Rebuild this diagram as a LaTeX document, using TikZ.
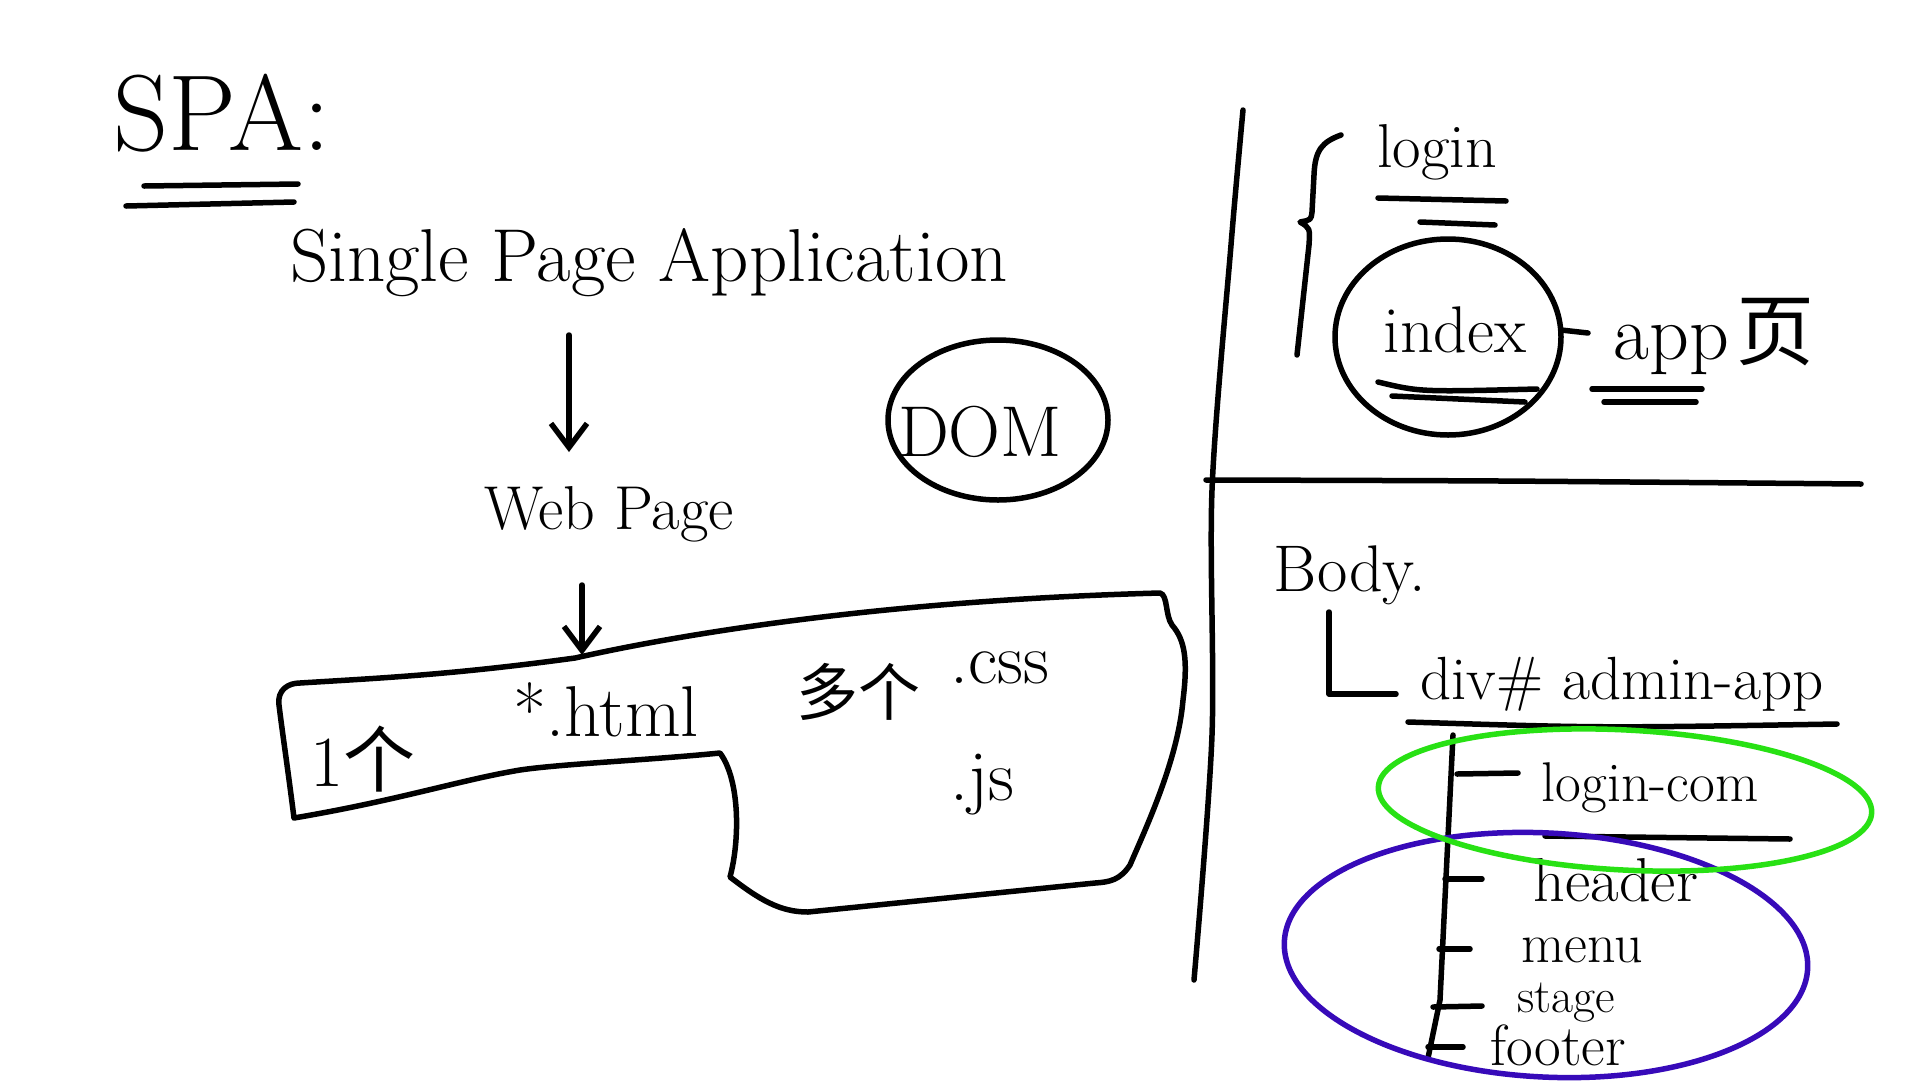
\documentclass[tikz,border=0pt]{standalone}
\usepackage{fontspec}
\newfontfamily\cjk{Noto Sans CJK SC}
\usetikzlibrary{arrows.meta}
\definecolor{hlgreen}{RGB}{40,225,20}
\definecolor{hlblue}{RGB}{55,10,185}
\newcommand{\fsz}[1]{\fontsize{#1}{#1}\selectfont}
\tikzset{
  ink/.style={line width=5.5pt, line cap=round, line join=round},
  lbl/.style={inner sep=0pt, outer sep=0pt},
  arr/.style={ink, -{Straight Barb[length=24pt,width=36pt]}},
  greenloop/.style={ink, draw=hlgreen},
  blueloop/.style={ink, draw=hlblue},
}
\begin{document}
\begin{tikzpicture}[x=1pt,y=-1pt]
\useasboundingbox[fill=white] (0,0) rectangle (1920,1080);

% ---------- left part ----------
\node[lbl] (spa) at (222,113) {\fsz{108}SPA:};
\draw[ink] (144,186) -- (298,184);
\draw[ink] (126,206) -- (294,202);

\node[lbl] (title) at (649,263) {\fsz{75}Single Page Application};
\coordinate (a1s) at (569,335);
\coordinate (a1e) at (569,452);
\draw[arr] (a1s) -- (a1e);

\node[lbl] (web) at (609,514) {\fsz{62}Web Page};
\coordinate (a2s) at (582,585);
\coordinate (a2e) at (582,655);
\draw[arr] (a2s) -- (a2e);

% page-shaped outline
\draw[ink] (294,818) .. controls (288,770) and (282,730) .. (279,705)
  .. controls (277,690) and (288,683) .. (300,683)
  .. controls (380,678) and (450,675) .. (575,658)
  .. controls (700,630) and (900,600) .. (1160,593)
  .. controls (1168,595) and (1165,615) .. (1172,625)
  .. controls (1185,640) and (1188,660) .. (1183,700)
  .. controls (1178,760) and (1145,830) .. (1130,865)
  .. controls (1120,880) and (1110,882) .. (1095,883)
  -- (808,912)
  .. controls (780,912) and (760,900) .. (730,877)
  .. controls (740,840) and (740,780) .. (720,753)
  .. controls (650,760) and (560,764) .. (520,770)
  .. controls (460,780) and (400,800) .. (294,818);

\node[lbl] (one) at (363,759) {\fsz{72}1{\cjk 个}};
\node[lbl] (html) at (606,710) {\fsz{72}*.html};
\node[lbl] (many) at (858,692) {\fsz{62}\cjk 多个};
\node[lbl] (css) at (1000,668) {\fsz{72}.css};
\node[lbl] (js) at (982,785) {\fsz{72}.js};

\node[lbl] (dom) at (980,432) {\fsz{72}DOM};
\draw[ink] (998,420) ellipse [x radius=110, y radius=80];

% ---------- dividers ----------
\draw[ink] plot[smooth] coordinates {(1243,110) (1231,245) (1212,490) (1212,735) (1194,980)};
\draw[ink] plot[smooth] coordinates {(1206,480) (1500,481) (1861,484)};

% ---------- top right ----------
\draw[ink] (1341,135) .. controls (1322,142) and (1315,150) .. (1314,175)
  -- (1312,212) .. controls (1311,220) .. (1300,222)
  .. controls (1310,228) .. (1309,245) -- (1297,355);
\node[lbl] (login) at (1437,152) {\fsz{62}login};
\draw[ink] (1378,198) -- (1506,201);
\draw[ink] (1420,222) -- (1495,225);

\node[lbl] (index) at (1455,330) {\fsz{66}index};
\draw[ink] (1448,337) ellipse [x radius=113, y radius=98];
\draw[ink] (1378,382) .. controls (1420,392) .. (1537,389);
\draw[ink] (1392,396) -- (1525,402);
\node[lbl] (app) at (1714,336) {\fsz{78}app\hspace{0.1em}{\cjk 页}};
\draw[ink] (index.east -| 1561,333) -- (1588,333);
\draw[ink] (1592,389) -- (1702,389);
\draw[ink] (1604,402) -- (1696,402);

% ---------- bottom right ----------
\node[lbl] (body) at (1350,575) {\fsz{66}Body.};
\draw[ink] (1329,612) -- (1329,694) -- (1396,694);
\node[lbl] (div) at (1622,684) {\fsz{61}div\# admin-app};
\draw[ink] (1408,722) .. controls (1600,728) .. (1837,724);

\draw[ink] (1453,735) -- (1440,1000) -- (1428,1058);
\draw[ink] (1457,774) -- (1518,773);
\draw[ink] (1445,879) -- (1482,879);
\draw[ink] (1439,949) -- (1470,949);
\draw[ink] (1433,1007) -- (1482,1006);
\draw[ink] (1428,1047) -- (1463,1047);

\node[lbl] (logincom) at (1650,788) {\fsz{56}login-com};
\draw[ink] (1545,836) -- (1790,839);
\node[lbl] (header) at (1616,880) {\fsz{62}header};
\node[lbl] (menu) at (1582,950) {\fsz{56}menu};
\node[lbl] (stage) at (1566,1003) {\fsz{48}stage};
\node[lbl] (footer) at (1558,1045) {\fsz{58}footer};

\draw[blueloop, rotate around={-3:(1546,955)}] (1546,955) ellipse [x radius=262, y radius=122];
\draw[greenloop, rotate around={-3:(1625,800)}] (1625,800) ellipse [x radius=247, y radius=70];
\end{tikzpicture}
\end{document}
